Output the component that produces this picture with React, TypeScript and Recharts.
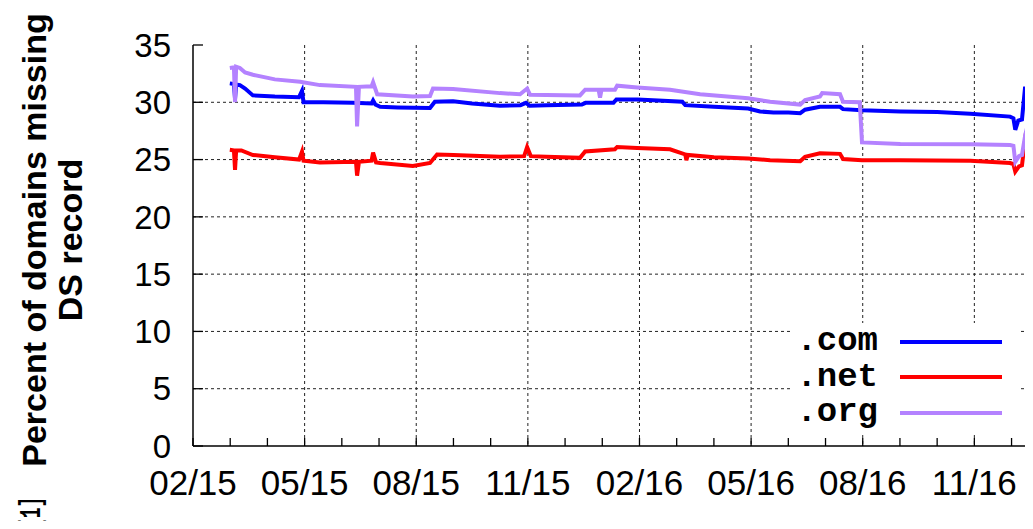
import React from 'react';
import { LineChart, Line, XAxis, YAxis, CartesianGrid, Legend } from 'recharts';

// [month since 02/15, percent]
const comData = [
  [0.99, 31.65], [1.1, 31.6], [1.13, 30.3], [1.16, 31.55], [1.26, 31.5], [1.4, 31.2], [1.61, 30.6],
  [2.2, 30.5], [2.85, 30.45], [2.93, 31.0], [2.97, 30.0], [3.5, 30.0], [4.3, 29.95], [4.8, 29.9],
  [4.84, 30.15], [4.9, 29.8], [5.03, 29.6], [5.5, 29.55], [6.37, 29.5], [6.5, 30.05], [6.99, 30.1],
  [7.5, 29.9], [8.25, 29.7], [8.8, 29.75], [8.95, 29.95], [9.05, 29.7], [9.5, 29.75], [10.45, 29.8],
  [10.55, 29.95], [11.3, 29.95], [11.38, 30.25], [11.94, 30.25], [12.5, 30.15], [13.15, 30.05],
  [13.23, 29.75], [14.0, 29.6], [14.92, 29.45], [15.24, 29.2], [15.6, 29.1], [16.0, 29.1],
  [16.32, 29.05], [16.45, 29.35], [16.85, 29.6], [17.39, 29.6], [17.47, 29.4], [17.98, 29.3],
  [19.01, 29.2], [20.0, 29.15], [20.89, 29.0], [21.96, 28.75], [22.05, 28.6], [22.1, 27.6],
  [22.18, 28.4], [22.28, 28.5], [22.36, 31.2], [22.63, 31.2],
];

const netData = [
  [0.99, 25.85], [1.1, 25.8], [1.13, 24.1], [1.16, 25.8], [1.3, 25.8], [1.61, 25.4], [2.2, 25.2],
  [2.85, 25.0], [2.93, 25.7], [2.97, 24.9], [3.41, 24.75], [4.38, 24.8], [4.41, 23.6], [4.46, 24.8],
  [4.8, 24.9], [4.84, 25.6], [4.92, 24.75], [5.03, 24.7], [5.91, 24.45], [6.37, 24.7], [6.56, 25.45],
  [7.0, 25.4], [8.25, 25.25], [8.9, 25.3], [8.98, 26.1], [9.08, 25.3], [9.5, 25.25], [10.4, 25.15],
  [10.54, 25.7], [11.34, 25.9], [11.4, 26.1], [11.94, 26.0], [12.82, 25.9], [13.23, 25.45],
  [13.26, 24.95], [13.3, 25.4], [14.0, 25.2], [14.92, 25.1], [15.51, 24.95], [16.32, 24.85],
  [16.45, 25.25], [16.85, 25.55], [17.39, 25.5], [17.47, 25.05], [17.98, 24.95], [19.01, 24.95],
  [20.89, 24.9], [21.96, 24.7], [22.05, 24.6], [22.1, 23.95], [22.2, 24.4], [22.28, 24.5],
  [22.38, 27.15], [22.63, 27.3],
];

const orgData = [
  [0.99, 33.0], [1.1, 33.05], [1.13, 30.0], [1.16, 33.1], [1.26, 33.0], [1.4, 32.6], [1.61, 32.4],
  [2.2, 32.0], [2.88, 31.8], [3.41, 31.5], [4.38, 31.35], [4.41, 27.9], [4.46, 31.35], [4.8, 31.4],
  [4.84, 31.75], [4.95, 30.7], [5.91, 30.5], [6.37, 30.55], [6.45, 31.2], [6.99, 31.15], [8.25, 30.8],
  [8.79, 30.7], [8.98, 31.2], [9.06, 30.65], [10.4, 30.6], [10.54, 31.1], [10.9, 31.1], [10.94, 30.4],
  [10.98, 31.1], [11.34, 31.1], [11.4, 31.45], [11.94, 31.3], [12.82, 31.1], [13.63, 30.7],
  [14.92, 30.35], [15.51, 30.05], [16.32, 29.8], [16.45, 30.2], [16.85, 30.5], [16.91, 30.8],
  [17.39, 30.7], [17.47, 30.05], [17.92, 30.0], [17.98, 26.5], [19.01, 26.35], [20.89, 26.33],
  [21.96, 26.27], [22.05, 26.2], [22.1, 24.8], [22.2, 25.3], [22.28, 25.4], [22.37, 27.2],
  [22.45, 28.2], [22.63, 28.3],
];

const tickLabels = ['02/15', '05/15', '08/15', '11/15', '02/16', '05/16', '08/16', '11/16'];
const monthTicks = Array.from({ length: 23 }, (_, i) => i);
const yTicks = [0, 5, 10, 15, 20, 25, 30, 35];
const gridMonths = [3, 6, 9, 12, 15, 18, 21];
const gridValues = [5, 10, 15, 20, 25, 30];

const X_MAX = 22.63;
const X_LABEL_GAP = 24;
const Y_LABEL_GAP = 22;

const toPoints = (arr: number[][]) => arr.map(([m, v]) => ({ m, v }));

const sans = '"Liberation Sans", Arial, sans-serif';
const mono = '"Liberation Mono", "Courier New", monospace';
const ink = { stroke: '#000', strokeWidth: 1.3 };

// gnuplot-style inward ticks, drawn from the tick position recharts hands over
const BottomTick = ({ x, y, payload }: any) => {
  const m = payload.value;
  const axisY = y - X_LABEL_GAP;
  return (
    <g>
      <line x1={x} x2={x} y1={axisY} y2={axisY - 8} {...ink} />
      {m % 3 === 0 && (
        <text x={x} y={y} dy="0.71em" textAnchor="middle" fill="#000" fontSize={35} fontFamily={sans}>
          {tickLabels[m / 3]}
        </text>
      )}
    </g>
  );
};

const TopTick = ({ x, y }: any) => <line x1={x} x2={x} y1={y} y2={y + 8} {...ink} />;

const LeftTick = ({ x, y, payload }: any) => {
  const axisX = x + Y_LABEL_GAP;
  return (
    <g>
      <line x1={axisX} x2={axisX + 10} y1={y} y2={y} {...ink} />
      <text x={x} y={y} dy="0.355em" textAnchor="end" fill="#000" fontSize={33} fontFamily={sans}>
        {payload.value}
      </text>
    </g>
  );
};

const RightTick = ({ x, y }: any) => <line x1={x} x2={x - 10} y1={y} y2={y} {...ink} />;

const LegendBox = ({ payload }: any) => (
  <div style={{ background: '#fff', width: 228, height: 109, paddingTop: 1, boxSizing: 'border-box' }}>
    {(payload || []).map((p: any) => (
      <div key={p.value} style={{ display: 'flex', alignItems: 'center', height: 35.5 }}>
        <span
          style={{
            width: 86, textAlign: 'right', fontFamily: mono, fontWeight: 'bold',
            fontSize: 34, lineHeight: '35px', color: '#000',
          }}
        >
          {p.value}
        </span>
        <span style={{ marginLeft: 22, width: 102, height: 4, background: p.color }} />
      </div>
    ))}
  </div>
);

const YLabel = () => (
  <g fill="#000">
    <g fontFamily={sans} fontWeight="bold" fontSize={34}>
      <text x={46} y={240} textAnchor="middle" transform="rotate(-90 46 240)">Percent of domains missing</text>
      <text x={82} y={240} textAnchor="middle" transform="rotate(-90 82 240)">DS record</text>
    </g>
    <g transform="translate(40 529) rotate(-90) scale(0.62 1)">
      <text x={0} y={0} fontFamily={mono} fontWeight="bold" fontSize={29}>[1]</text>
    </g>
  </g>
);

export default function App() {
  return (
    <div style={{ margin: -8, width: 1033, height: 529, overflow: 'hidden', position: 'relative', background: '#fff' }}>
      <LineChart width={1060} height={529} margin={{ top: 45, right: 25, bottom: 33, left: 133 }}>
        <CartesianGrid stroke="#222" strokeDasharray="3 3" horizontalValues={gridValues} verticalValues={gridMonths} />
        <XAxis
          dataKey="m"
          type="number"
          domain={[0, X_MAX]}
          ticks={monthTicks}
          interval={0}
          allowDataOverflow
          tickLine={false}
          tickSize={0}
          tickMargin={X_LABEL_GAP}
          height={50}
          axisLine={{ stroke: '#000', strokeWidth: 1.5 }}
          tick={(p: any) => <BottomTick {...p} />}
        />
        <XAxis
          xAxisId="top"
          orientation="top"
          type="number"
          domain={[0, X_MAX]}
          ticks={monthTicks}
          interval={0}
          tickLine={false}
          tickSize={0}
          tickMargin={0}
          height={0}
          axisLine={{ stroke: '#000', strokeWidth: 1.5 }}
          tick={(p: any) => <TopTick {...p} />}
        />
        <YAxis
          type="number"
          domain={[0, 35]}
          ticks={yTicks}
          interval={0}
          width={60}
          tickLine={false}
          tickSize={0}
          tickMargin={Y_LABEL_GAP}
          axisLine={{ stroke: '#000', strokeWidth: 1.5 }}
          tick={(p: any) => <LeftTick {...p} />}
          label={{ content: () => <YLabel /> }}
        />
        <YAxis
          yAxisId="r"
          orientation="right"
          type="number"
          domain={[0, 35]}
          ticks={yTicks}
          interval={0}
          width={0}
          tickLine={false}
          tickSize={0}
          tickMargin={0}
          axisLine={{ stroke: '#000', strokeWidth: 1.5 }}
          tick={(p: any) => <RightTick {...p} />}
        />
        <Line data={toPoints(comData)} dataKey="v" name=".com" type="linear" stroke="#0000ff" strokeWidth={4} dot={false} isAnimationActive={false} />
        <Line data={toPoints(netData)} dataKey="v" name=".net" type="linear" stroke="#ff0000" strokeWidth={4} dot={false} isAnimationActive={false} />
        <Line data={toPoints(orgData)} dataKey="v" name=".org" type="linear" stroke="#b482ff" strokeWidth={4} dot={false} isAnimationActive={false} />
        <Legend
          layout="horizontal"
          verticalAlign="middle"
          align="center"
          content={<LegendBox />}
          wrapperStyle={{ left: 792, top: 323, width: 228, height: 109 }}
        />
      </LineChart>
    </div>
  );
}
